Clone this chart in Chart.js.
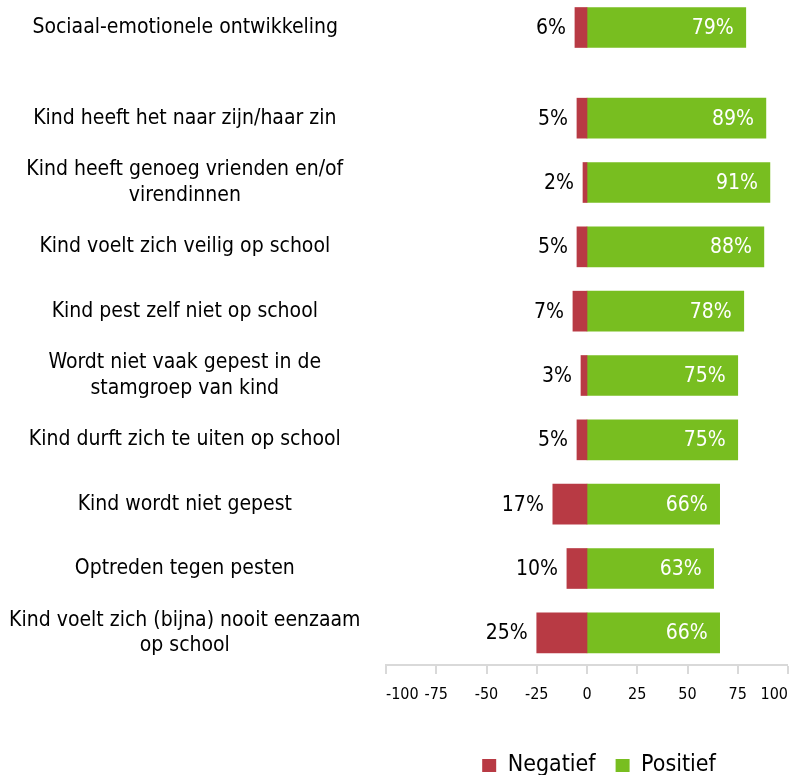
<!DOCTYPE html>
<html><head><meta charset="utf-8">
<script src="https://cdn.jsdelivr.net/npm/chart.js@4.4.1/dist/chart.umd.min.js"></script>
<style>
html,body{margin:0;padding:0;background:#fff;overflow:hidden;}
#wrap{position:relative;width:790px;height:775px;overflow:hidden;}
#c1{position:absolute;left:0;top:0;}
#c2{position:absolute;left:0;top:0;}
</style></head>
<body><div id="wrap"><canvas id="c2" width="790" height="787"></canvas><canvas id="c1" width="790" height="55"></canvas></div>
<script>
// ---- data ----
const headLabels = ["Sociaal-emotionele ontwikkeling"];
const headNegative = [-6];
const headPositive = [79];
const itemLabels = [
  "Kind heeft het naar zijn/haar zin",
  ["Kind heeft genoeg vrienden en/of", "virendinnen"],
  "Kind voelt zich veilig op school",
  "Kind pest zelf niet op school",
  ["Wordt niet vaak gepest in de", "stamgroep van kind"],
  "Kind durft zich te uiten op school",
  "Kind wordt niet gepest",
  "Optreden tegen pesten",
  ["Kind voelt zich (bijna) nooit eenzaam", "op school"]
];
const itemNegative = [-5, -2, -5, -7, -3, -5, -17, -10, -25];
const itemPositive = [89, 91, 88, 78, 75, 75, 66, 63, 66];
const xTickValues = [-100, -75, -50, -25, 0, 25, 50, 75, 100];
const seriesNames = ["Negatief", "Positief"];

// ---- style ----
const FONT = "'DejaVu Sans Condensed', 'DejaVu Sans', sans-serif";
const RED = '#b83a44';
const GREEN = '#78be20';
const AXIS = '#d9d9d9';

const valueLabels = {
  id: 'valueLabels',
  afterDatasetsDraw(chart) {
    const ctx = chart.ctx;
    ctx.save();
    ctx.font = '21px ' + FONT;
    ctx.textBaseline = 'middle';
    ctx.textAlign = 'right';
    chart.data.datasets.forEach((ds, di) => {
      const meta = chart.getDatasetMeta(di);
      meta.data.forEach((el, i) => {
        const v = ds.data[i];
        const txt = Math.abs(v) + '%';
        if (v < 0) {
          ctx.fillStyle = '#000';
          ctx.fillText(txt, Math.min(el.x, el.base) - 9, el.y + 1);
        } else {
          ctx.fillStyle = '#fff';
          ctx.fillText(txt, Math.max(el.x, el.base) - 12, el.y + 1);
        }
      });
    });
    ctx.restore();
  }
};

const legendShift = {
  id: 'legendShift',
  afterLayout(chart) {
    const lg = chart.legend;
    if (lg && lg.options.display) { lg.left += 12; lg.right += 12; }
  }
};

function makeDatasets(neg, pos) {
  const common = {barThickness: 40, borderWidth: 0};
  return [
    Object.assign({label: seriesNames[0], data: neg, backgroundColor: RED, borderColor: RED}, common),
    Object.assign({label: seriesNames[1], data: pos, backgroundColor: GREEN, borderColor: GREEN}, common)
  ];
}

function yAxis(pad) {
  return {
    type: 'category', stacked: true, offset: true,
    grid: {display: false, drawTicks: false}, border: {display: false},
    ticks: {crossAlign: 'center', padding: pad, color: '#000', font: {family: FONT, size: 21}},
    afterFit(scale) { scale.width = 386; scale.paddingTop = 0; scale.paddingBottom = 0; }
  };
}

Chart.defaults.animation = false;

// head row (separate so its gap above the other rows matches)
new Chart(document.getElementById('c1'), {
  type: 'bar',
  data: {labels: headLabels, datasets: makeDatasets(headNegative, headPositive)},
  options: {
    indexAxis: 'y', responsive: false, maintainAspectRatio: false,
    layout: {padding: {top: 0, bottom: 0, left: 0, right: 2}},
    plugins: {legend: {display: false}, tooltip: {enabled: false}},
    scales: {
      x: {type: 'linear', stacked: true, min: -100, max: 100, display: false, grid: {lineWidth: 0}},
      y: yAxis(48)
    }
  },
  plugins: [valueLabels]
});

new Chart(document.getElementById('c2'), {
  type: 'bar',
  data: {labels: itemLabels, datasets: makeDatasets(itemNegative, itemPositive)},
  options: {
    indexAxis: 'y', responsive: false, maintainAspectRatio: false,
    layout: {padding: {top: 86, bottom: 0, left: 0, right: 2}},
    plugins: {
      tooltip: {enabled: false},
      legend: {
        position: 'bottom', fullSize: false,
        labels: {boxWidth: 14, boxHeight: 13, padding: 20, color: '#000', font: {family: FONT, size: 23}}
      }
    },
    scales: {
      x: {
        type: 'linear', stacked: true, min: -100, max: 100,
        afterBuildTicks(scale) { scale.ticks = xTickValues.map(v => ({value: v})); },
        afterFit(scale) { scale.height = 69; scale.paddingLeft = 0; scale.paddingRight = 0; },
        grid: {display: true, drawOnChartArea: false, drawTicks: true, tickLength: 9, color: AXIS, tickColor: AXIS, lineWidth: 0, tickWidth: 2},
        border: {display: true, color: AXIS, width: 2},
        ticks: {align: 'inner', padding: 11, color: '#000', maxRotation: 0, autoSkip: false, font: {family: FONT, size: 16}}
      },
      y: yAxis(25.5)
    }
  },
  plugins: [valueLabels, legendShift]
});
</script></body></html>
